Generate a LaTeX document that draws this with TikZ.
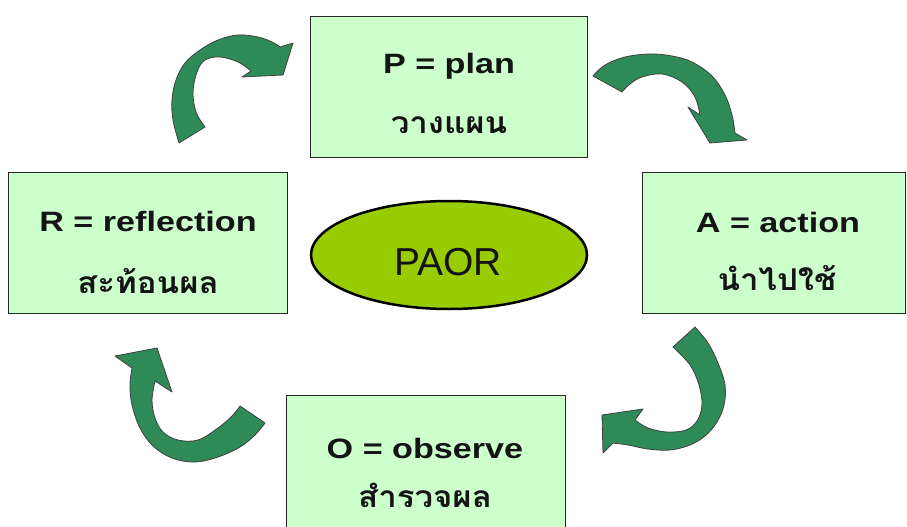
\documentclass[tikz,border=0pt]{standalone}
\usepackage{fontspec}
\usetikzlibrary{shapes.geometric}
\setmainfont{Liberation Sans}
\newfontfamily\latinb[FakeStretch=1.22]{Liberation Sans Bold}
\newfontfamily\thaib[Script=Thai,FakeStretch=1.1]{Loma}
\definecolor{boxgreen}{RGB}{204,255,204}
\definecolor{arrowgreen}{RGB}{46,139,87}
\definecolor{ellgreen}{RGB}{153,204,0}
\tikzset{
  box/.style={draw=black!85, line width=1.4pt, fill=boxgreen, rectangle, inner sep=0pt, anchor=north west},
  lab/.style={anchor=base, inner sep=0pt, text=black!92, font={\latinb\fontsize{28}{30}\selectfont}},
  thlab/.style={anchor=base, inner sep=0pt, text=black!92, font={\thaib\bfseries\fontsize{30}{32}\selectfont}},
  blockarrow/.style={fill=arrowgreen, draw=black!75, line width=0.8pt, line join=round},
}
\begin{document}
\begin{tikzpicture}[x=1pt,y=-1pt]
\useasboundingbox (0,0) rectangle (907,527);
\clip (0,0) rectangle (907,527);
\fill[white] (0,0) rectangle (907,527);

% boxes
\node[box, minimum width=277pt, minimum height=141pt] (pbox) at (310,16) {};
\node[box, minimum width=279pt, minimum height=141pt] (rbox) at (8,172) {};
\node[box, minimum width=263pt, minimum height=141pt] (abox) at (642,172) {};
\node[box, minimum width=279pt, minimum height=150pt] (obox) at (286,395) {};

% centre ellipse
\node[ellipse, draw=black, line width=2.5pt, fill=ellgreen, minimum width=276pt, minimum height=108pt, inner sep=0pt] (paor) at (449,255) {};
\node[anchor=base, inner sep=0pt, font=\fontsize{39}{40}\selectfont, text=black!92] (paortxt) at (448,275) {PAOR};

% texts
\node[lab] (ptxt) at (449,74) {P = plan};
\node[thlab] (pth) at (449,133) {วางแผน};
\node[lab] (rtxt) at (148,231) {R = reflection};
\node[thlab] (rth) at (148,293) {สะท้อนผล};
\node[lab] (atxt) at (778,232) {A = action};
\node[thlab] (ath) at (777,290) {นำไปใช้};
\node[lab] (otxt) at (425,458) {O = observe};
\node[thlab] (oth) at (425,507) {สำรวจผล};

% curved block arrows
% R -> P
\path[blockarrow] plot[smooth, tension=0.6] coordinates {(179,143) (173,120) (172,100) (176,80) (185,63) (200,50) (218,40) (238,35) (258,37) (272,42) (280,47)}
  -- (293,43) -- (283,75) -- (242,77) --
  plot[smooth, tension=0.6] coordinates {(251,71) (238,62) (220,57) (205,60) (197,72) (193,92) (196,112) (205,127)} -- cycle;
% P -> A
\path[blockarrow] plot[smooth, tension=0.6] coordinates {(593,76) (605,65) (625,57) (650,54) (672,56) (692,62) (712,76) (725,95) (732,115) (735,133)}
  -- (747,140) -- (710,143) -- (688,107) --
  plot[smooth, tension=0.6] coordinates {(700,115) (695,97) (682,82) (662,74) (642,77) (630,84) (622,92)} -- cycle;
% A -> O
\path[blockarrow] plot[smooth, tension=0.6] coordinates {(695,327) (708,343) (718,363) (725,385) (724,405) (717,422) (705,436) (690,445) (670,450) (648,449) (628,445) (613,443)}
  -- (603,453) -- (602,415) -- (643,409) --
  plot[smooth, tension=0.6] coordinates {(635,420) (648,428) (667,432) (686,430) (697,421) (702,405) (699,385) (690,365) (673,347)} -- cycle;
% O -> R
\path[blockarrow] plot[smooth, tension=0.6] coordinates {(265,423) (255,435) (240,447) (218,457) (195,462) (172,458) (153,446) (140,428) (132,405) (130,385) (132,368)}
  -- (115,356) -- (157,348) -- (172,392) --
  plot[smooth, tension=0.6] coordinates {(155,381) (152,400) (155,418) (163,432) (178,440) (198,440) (218,428) (232,416) (240,406)} -- cycle;
\end{tikzpicture}
\end{document}
